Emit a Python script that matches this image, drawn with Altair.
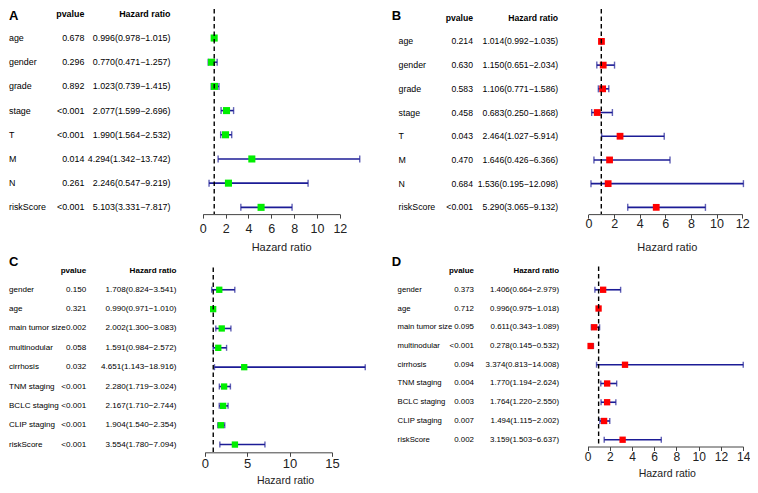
import altair as alt
import pandas as pd

# ---------------- data ----------------
a_vars = ["age", "gender", "grade", "stage", "T", "M", "N", "riskScore"]
a_p = ["0.678", "0.296", "0.892", "<0.001", "<0.001", "0.014", "0.261", "<0.001"]
a_hr = [0.996, 0.770, 1.023, 2.077, 1.990, 4.294, 2.246, 5.103]
a_lo = [0.978, 0.471, 0.739, 1.599, 1.564, 1.342, 0.547, 3.331]
a_hi = [1.015, 1.257, 1.415, 2.696, 2.532, 13.742, 9.219, 7.817]

b_vars = ["age", "gender", "grade", "stage", "T", "M", "N", "riskScore"]
b_p = ["0.214", "0.630", "0.583", "0.458", "0.043", "0.470", "0.684", "<0.001"]
b_hr = [1.014, 1.150, 1.106, 0.683, 2.464, 1.646, 1.536, 5.290]
b_lo = [0.992, 0.651, 0.771, 0.250, 1.027, 0.426, 0.195, 3.065]
b_hi = [1.035, 2.034, 1.586, 1.868, 5.914, 6.366, 12.098, 9.132]

c_vars = ["gender", "age", "main tumor size", "multinodular", "cirrhosis",
          "TNM staging", "BCLC staging", "CLIP staging", "riskScore"]
c_p = ["0.150", "0.321", "0.002", "0.058", "0.032", "<0.001", "<0.001", "<0.001", "<0.001"]
c_hr = [1.708, 0.990, 2.002, 1.591, 4.651, 2.280, 2.167, 1.904, 3.554]
c_lo = [0.824, 0.971, 1.300, 0.984, 1.143, 1.719, 1.710, 1.540, 1.780]
c_hi = [3.541, 1.010, 3.083, 2.572, 18.916, 3.024, 2.744, 2.354, 7.094]

d_vars = ["gender", "age", "main tumor size", "multinodular", "cirrhosis",
          "TNM staging", "BCLC staging", "CLIP staging", "riskScore"]
d_p = ["0.373", "0.712", "0.095", "<0.001", "0.094", "0.004", "0.003", "0.007", "0.002"]
d_hr = [1.406, 0.996, 0.611, 0.278, 3.374, 1.770, 1.764, 1.494, 3.159]
d_lo = [0.664, 0.975, 0.343, 0.145, 0.813, 1.194, 1.220, 1.115, 1.503]
d_hi = [2.979, 1.018, 1.089, 0.532, 14.008, 2.624, 2.550, 2.002, 6.637]

ticks_a = [0, 2, 4, 6, 8, 10, 12]
ticks_b = [0, 2, 4, 6, 8, 10, 12]
ticks_c = [0, 5, 10, 15]
ticks_d = [0, 2, 4, 6, 8, 10, 12, 14]

ref_line = [1.0]

# ---------------- layout / style ----------------
SX = 742 / 758
SY = 477 / 493
FONT = "Liberation Sans"
BLUE = "#1c1c96"
GREEN = "#00ee00"
RED = "#ff0000"


def panel(letter, vars_, p, hr, lo, hi, ticks, color, L):
    df = pd.DataFrame({
        "var": vars_, "p": p, "hr": hr, "lo": lo, "hi": hi,
        "txt": [f"{h:.3f}({l:.3f}\u2212{u:.3f})" for h, l, u in zip(hr, lo, hi)],
    })
    w = L["w"] * SX
    h = L["h"] * SY
    xs = alt.Scale(domain=[ticks[0], ticks[-1]],
                   range=[L["x0"] * SX, L["x1"] * SX], nice=False, zero=False)
    ax = alt.Axis(values=ticks, title="Hazard ratio", grid=False,
                  domainColor="#444444", domainWidth=1, tickColor="#444444",
                  tickWidth=1, tickSize=4, labelFont=FONT,
                  labelFontSize=L["tfs"], labelColor="#222222",
                  labelPadding=(L["lab_off"] - 4) * SY, labelBaseline="middle",
                  labelFlush=False, labelOverlap=False,
                  titleFont=FONT, titleFontSize=L["ttfs"], titleFontWeight="normal",
                  titleColor="#222222", titleX=L["tx"] * SX, titleY=L["ty"] * SY,
                  titleAlign="center", titleBaseline="middle")
    ys = alt.Scale(type="point", domain=vars_,
                   range=[L["y0"] * SY, L["y1"] * SY], padding=0)
    yenc = alt.Y("var:N", scale=ys, axis=None)

    base = alt.Chart(df)
    ci = base.mark_rule(color=BLUE, strokeWidth=1.6).encode(
        x=alt.X("lo:Q", scale=xs, axis=ax), x2="hi:Q", y=yenc)
    cap_lo = base.mark_tick(color=BLUE, thickness=1.4, size=L["cap"]).encode(
        x=alt.X("lo:Q", scale=xs, axis=ax), y=yenc)
    cap_hi = base.mark_tick(color=BLUE, thickness=1.4, size=L["cap"]).encode(
        x=alt.X("hi:Q", scale=xs, axis=ax), y=yenc)
    sq = base.mark_square(color=color, size=L["sq"], opacity=1, filled=True).encode(
        x=alt.X("hr:Q", scale=xs, axis=ax), y=yenc)
    dash = alt.Chart(pd.DataFrame({"ref": ref_line})).mark_rule(
        color="black", strokeDash=[4.5, 3], strokeWidth=1.4).encode(
        x=alt.X("ref:Q", scale=xs, axis=ax),
        y=alt.value(L["dash_top"] * SY), y2=alt.value(h))

    fs = L["fs"]
    lab = base.mark_text(align="left", baseline="middle", font=FONT, fontSize=L["lfs"],
                         color="black").encode(
        x=alt.value(L["lab_x"] * SX), y=yenc, text="var:N")
    pv = base.mark_text(align="right", baseline="middle", font=FONT, fontSize=fs,
                        color="black").encode(
        x=alt.value(L["p_x"] * SX), y=yenc, text="p:N")
    hrt = base.mark_text(align="right", baseline="middle", font=FONT, fontSize=fs,
                         color="black").encode(
        x=alt.value(L["hr_x"] * SX), y=yenc, text="txt:N")
    h1 = alt.Chart(pd.DataFrame({"t": ["pvalue"]})).mark_text(
        align="right", baseline="middle", font=FONT, fontSize=fs,
        fontWeight="bold", color="black").encode(
        x=alt.value(L["p_x"] * SX), y=alt.value(L["hdr_y"] * SY), text="t:N")
    h2 = alt.Chart(pd.DataFrame({"t": ["Hazard ratio"]})).mark_text(
        align="right", baseline="middle", font=FONT, fontSize=fs,
        fontWeight="bold", color="black").encode(
        x=alt.value(L["hr_x"] * SX), y=alt.value(L["hdr_y"] * SY), text="t:N")
    let = alt.Chart(pd.DataFrame({"t": [letter]})).mark_text(
        align="left", baseline="middle", font=FONT, fontSize=13,
        fontWeight="bold", color="black").encode(
        x=alt.value(L["let_x"] * SX), y=alt.value(L["let_y"] * SY), text="t:N")

    return alt.layer(ci, cap_lo, cap_hi, sq, dash, lab, pv, hrt, h1, h2, let).properties(
        width=w, height=h)


LA = dict(w=379, h=212, x0=199, x1=339, y0=30, y1=205, dash_top=0,
          let_x=1, let_y=7.5, hdr_y=5.5, lab_x=1, p_x=78, hr_x=166, fs=8.9, lfs=8.9,
          tfs=12.5, ttfs=11, lab_off=15, tx=279, ty=34.7, sq=50, cap=7)
LB = dict(w=379, h=212, x0=214, x1=371, y0=33.5, y1=205, dash_top=0,
          let_x=13, let_y=7.5, hdr_y=9.5, lab_x=20, p_x=96, hr_x=183, fs=8.65, lfs=8.8,
          tfs=12.5, ttfs=11, lab_off=9.5, tx=294, ty=34, sq=46, cap=7)
LC = dict(w=379, h=206, x0=201, x1=331, y0=38, y1=198, dash_top=15,
          let_x=1, let_y=9, hdr_y=18.7, lab_x=1, p_x=80, hr_x=172, fs=8.1, lfs=8.05,
          tfs=13, ttfs=10.5, lab_off=11.7, tx=283, ty=29.3, sq=40, cap=6)
LD = dict(w=379, h=200, x0=213, x1=372, y0=38, y1=193, dash_top=14,
          let_x=13, let_y=9.5, hdr_y=18.7, lab_x=19, p_x=97, hr_x=184, fs=7.9, lfs=7.75,
          tfs=12, ttfs=10.5, lab_off=9.7, tx=294, ty=28.3, sq=40, cap=6)

pa = panel("A", a_vars, a_p, a_hr, a_lo, a_hi, ticks_a, GREEN, LA)
pb = panel("B", b_vars, b_p, b_hr, b_lo, b_hi, ticks_b, RED, LB)
pc = panel("C", c_vars, c_p, c_hr, c_lo, c_hi, ticks_c, GREEN, LC)
pd_ = panel("D", d_vars, d_p, d_hr, d_lo, d_hi, ticks_d, RED, LD)

chart = alt.vconcat(
    alt.hconcat(pa, pb, spacing=0),
    alt.hconcat(pc, pd_, spacing=0),
    spacing=0,
).properties(padding=0).configure_view(stroke=None)

chart.save("out.html", embed_options={"renderer": "svg", "actions": False})
